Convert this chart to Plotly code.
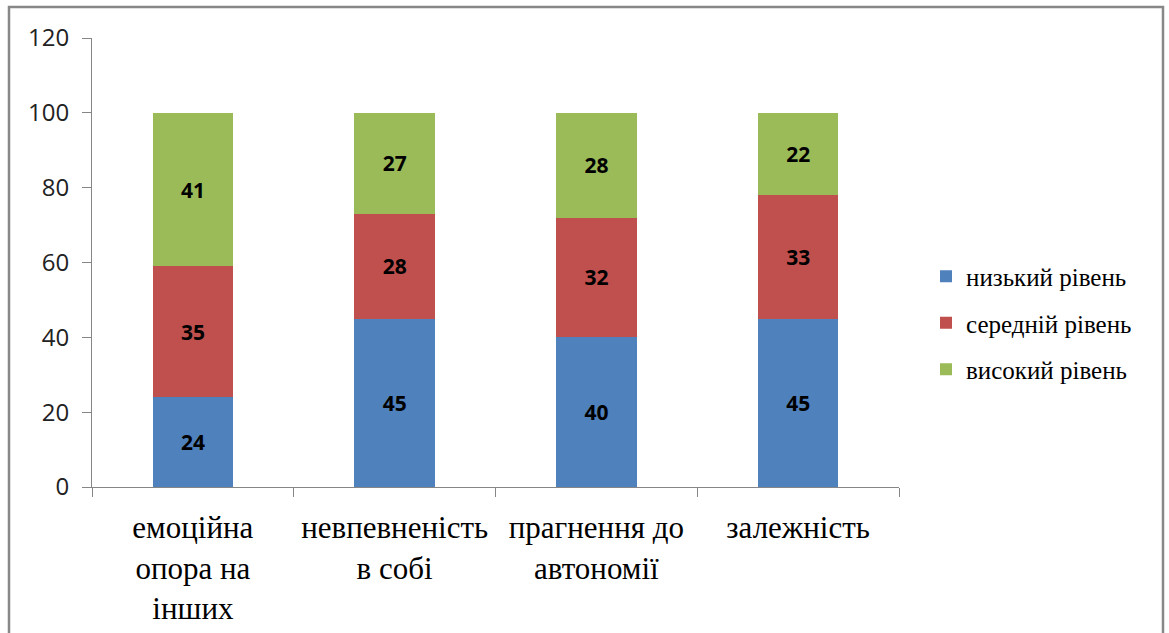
import plotly.graph_objects as go

categories = ["емоційна<br>опора на<br>інших", "невпевненість<br>в собі", "прагнення до<br>автономії", "залежність"]
low_level = [24, 45, 40, 45]
mid_level = [35, 28, 32, 33]
high_level = [41, 27, 28, 22]
series_names = ["низький рівень", "середній рівень", "високий рівень"]
series_colors = ["#4F81BD", "#C0504D", "#9BBB59"]
y_ticks = [0, 20, 40, 60, 80, 100, 120]

W, H = 1169, 633
L, R, T, B = 92, 270, 38, 146
pw, ph = W - L - R, H - T - B

SERIF = "Liberation Serif"
SANS = "Open Sans"

fig = go.Figure()
for name, vals, col in zip(series_names, [low_level, mid_level, high_level], series_colors):
    fig.add_trace(go.Bar(
        x=categories, y=vals, name=name, legendgroup=name,
        marker=dict(color=col, line=dict(width=0)),
        text=vals, texttemplate="<b>%{text}</b>", textposition="inside",
        insidetextanchor="middle", textangle=0, constraintext="none",
        insidetextfont=dict(family=SANS, size=21, color="#000000"),
    ))

axis_col = "#868686"
fig.update_layout(
    width=W, height=H,
    margin=dict(l=L, r=R, t=T, b=B),
    font=dict(color="#000000"),
    barmode="stack", bargap=0.6,
    plot_bgcolor="white", paper_bgcolor="white",
    showlegend=True,
    legend=dict(
        x=(926 - L) / pw, y=(H - B - 323) / ph, xanchor="left", yanchor="middle",
        traceorder="reversed+grouped", tracegroupgap=11,
        font=dict(family=SERIF, size=25),
        bgcolor="rgba(0,0,0,0)",
    ),
    xaxis=dict(
        showline=True, linecolor=axis_col, linewidth=1, automargin=False,
        ticks="outside", ticklen=9, tickcolor=axis_col, tickson="boundaries",
        showgrid=False, tickangle=0,
        tickfont=dict(family=SERIF, size=31),
        ticklabelstandoff=13,
    ),
    yaxis=dict(
        range=[0, 120], tickvals=y_ticks, showline=True, linecolor=axis_col, linewidth=1,
        automargin=False,
        ticks="outside", ticklen=9, tickcolor=axis_col, showgrid=False, zeroline=False,
        tickfont=dict(family=SANS, size=24, color="#222222"),
        ticklabelstandoff=8,
    ),
)

# outer frame around the whole chart
fig.add_shape(
    type="rect", xref="paper", yref="paper",
    x0=(9 - L) / pw, x1=(1163 - L) / pw,
    y0=(H - B - 645) / ph, y1=(H - B - 7) / ph,
    line=dict(color="#888888", width=2.5), fillcolor="rgba(0,0,0,0)", layer="below",
)

fig.write_html("out.html")
